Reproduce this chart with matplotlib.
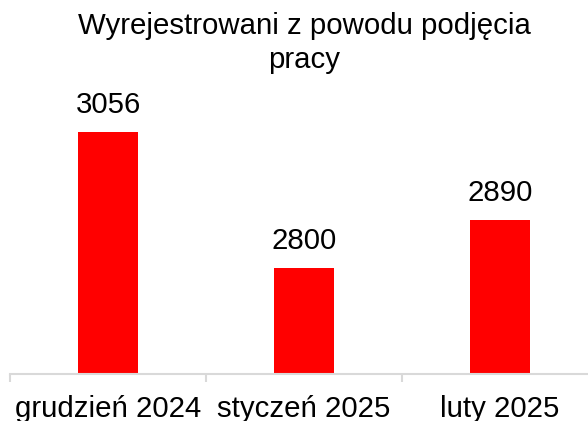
import matplotlib
matplotlib.use('Agg')
import matplotlib.pyplot as plt

months = ['grudzień 2024', 'styczeń 2025', 'luty 2025']
values = [3056, 2800, 2890]
title = 'Wyrejestrowani z powodu podjęcia\npracy'

plt.rcParams['font.family'] = ['Liberation Sans', 'DejaVu Sans']
fs = 21.2

fig = plt.figure(figsize=(5.88, 4.21), dpi=100)
# axes runs a little past the right edge, as in the original
ax = fig.add_axes([10 / 588, 47 / 421, 588 / 588, 319 / 421])

x = range(len(months))
bars = ax.bar(x, values, width=0.31, color='#ff0000', zorder=2)
ax.set_xlim(-0.5, len(months) - 0.5)
ax.set_ylim(2600, 3200)

for rect, v in zip(bars, values):
    ax.annotate(f'{v}', (rect.get_x() + rect.get_width() / 2, v),
                xytext=(0, 9), textcoords='offset points',
                ha='center', va='bottom', fontsize=fs)

for side in ('top', 'right', 'left'):
    ax.spines[side].set_visible(False)
ax.spines['bottom'].set_color('#d9d9d9')
ax.spines['bottom'].set_linewidth(1.5)
ax.set_yticks([])

ax.set_xticks([i - 0.5 for i in range(len(months) + 1)])
ax.set_xticklabels([])
ax.tick_params(axis='x', which='major', direction='out', length=6,
               width=1.5, color='#d9d9d9')
ax.set_xticks(list(x), minor=True)
ax.set_xticklabels(months, minor=True, fontsize=fs)
ax.tick_params(axis='x', which='minor', length=0, pad=15)

fig.text(304 / 588, 1 - 12 / 421, title, ha='center', va='top',
         fontsize=fs, linespacing=1.27)

fig.savefig('out.png', dpi=100)
